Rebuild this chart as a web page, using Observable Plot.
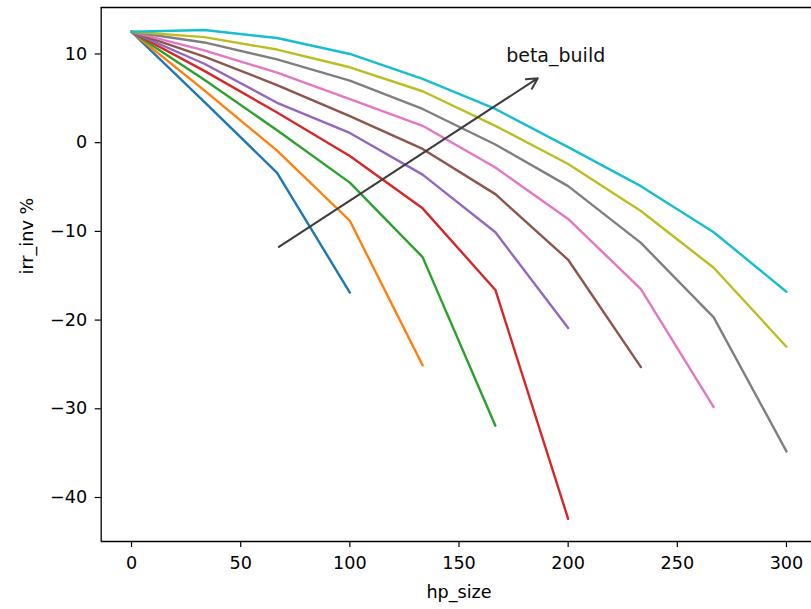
<!DOCTYPE html>
<html><head><meta charset="utf-8">
<script src="https://cdn.jsdelivr.net/npm/d3@7"></script>
<script src="https://cdn.jsdelivr.net/npm/@observablehq/plot@0.6"></script>
<style>html,body{margin:0;padding:0;background:#fff} svg{display:block}</style>
</head><body><div id="chart"></div>
<script>
// hp_size grid
const hpSize = [0, 33.33, 66.67, 100, 133.33, 166.67, 200, 233.33, 266.67, 300];
// one curve per beta_build setting
const seriesNames = ["b1", "b2", "b3", "b4", "b5", "b6", "b7", "b8", "b9", "b10"];
const irr1 = [12.5, 4.6, -3.4, -16.9];
const irr2 = [12.5, 5.9, -0.9, -8.8, -25.1];
const irr3 = [12.5, 7.1, 1.4, -4.5, -12.9, -31.9];
const irr4 = [12.5, 8.1, 3.4, -1.5, -7.4, -16.6, -42.4];
const irr5 = [12.5, 8.9, 4.5, 1.1, -3.6, -10.1, -20.9];
const irr6 = [12.5, 9.7, 6.5, 3.0, -0.7, -5.8, -13.2, -25.3];
const irr7 = [12.5, 10.4, 7.9, 4.9, 1.9, -2.8, -8.6, -16.5, -29.8];
const irr8 = [12.5, 11.3, 9.4, 7.0, 3.8, -0.2, -4.9, -11.3, -19.7, -34.8];
const irr9 = [12.5, 11.9, 10.5, 8.5, 5.8, 1.9, -2.4, -7.7, -14.1, -23.0];
const irr10 = [12.5, 12.7, 11.8, 10.0, 7.2, 3.8, -0.5, -4.9, -10.1, -16.8];
const seriesValues = [irr1, irr2, irr3, irr4, irr5, irr6, irr7, irr8, irr9, irr10];
const colors = ["#1f77b4", "#ff7f0e", "#2ca02c", "#d62728", "#9467bd", "#8c564b", "#e377c2", "#7f7f7f", "#bcbd22", "#17becf"];

const xTicks = [0, 50, 100, 150, 200, 250, 300];
const yTicks = [-40, -30, -20, -10, 0, 10];
const xDomain = [-13.9, 313.9];
const yDomain = [-44.96, 15.24];

const arrowData = [{x1: 67.5, y1: -11.75, x2: 186.1, y2: 7.27}];
const annotation = [{x: 171.6, y: 9.1, text: "beta_build"}];

const rows = seriesValues.flatMap((vals, i) =>
  vals.map((v, j) => ({series: seriesNames[i], x: hpSize[j], y: v})));

const chart = Plot.plot({
  width: 811,
  height: 609,
  marginLeft: 100.7,
  marginRight: -5.3,
  marginTop: 7,
  marginBottom: 68,
  style: {fontFamily: "DejaVu Sans", fontSize: "17.6px", background: "white", color: "black"},
  x: {domain: xDomain},
  y: {domain: yDomain},
  color: {domain: seriesNames, range: colors},
  marks: [
    Plot.line(rows, {x: "x", y: "y", z: "series", stroke: "series", strokeWidth: 2.4}),
    Plot.arrow(arrowData, {x1: "x1", y1: "y1", x2: "x2", y2: "y2", stroke: "#3c3c3c", strokeWidth: 2, headLength: 9, headAngle: 55}),
    Plot.text(annotation, {x: "x", y: "y", text: "text", textAnchor: "start", lineAnchor: "bottom", fontSize: 19, fill: "#111"}),
    Plot.axisX({ticks: xTicks, tickSize: 6, tickPadding: 9, label: null, stroke: "black", strokeWidth: 1.2}),
    Plot.axisY({ticks: yTicks, tickSize: 6, tickPadding: 8, label: null, stroke: "black", strokeWidth: 1.2}),
    Plot.ruleX([xDomain[0]], {stroke: "black", strokeWidth: 1.3}),
    Plot.ruleY([yDomain[0]], {stroke: "black", strokeWidth: 1.3}),
    Plot.ruleY([yDomain[1]], {stroke: "black", strokeWidth: 1.3}),
    Plot.text(["hp_size"], {frameAnchor: "bottom", dy: 51, lineAnchor: "middle"}),
    Plot.text(["irr_inv %"], {frameAnchor: "left", dx: -74, rotate: -90, lineAnchor: "middle"})
  ]
});
document.getElementById("chart").appendChild(chart);
</script>
</body></html>
